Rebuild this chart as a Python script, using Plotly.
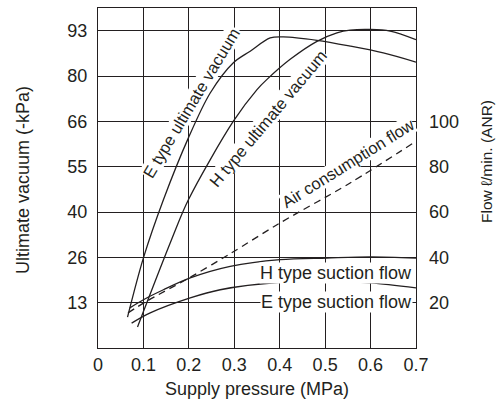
import plotly.graph_objects as go

# ---- data ----
pressure_ticks = [0, 0.1, 0.2, 0.3, 0.4, 0.5, 0.6, 0.7]
pressure_labels = ["0", "0.1", "0.2", "0.3", "0.4", "0.5", "0.6", "0.7"]
vacuum_labels = ["13", "26", "40", "55", "66", "80", "93"]
flow_ticks = [20, 40, 60, 80, 100]

# Ultimate vacuum curves (-kPa)
e_vac_p = [0.065, 0.10, 0.144, 0.199, 0.247, 0.298, 0.335, 0.379, 0.408, 0.482, 0.555, 0.628, 0.70]
e_vac_v = [9.1, 26.5, 43.6, 61.8, 75.0, 83.9, 87.3, 91.2, 91.5, 90.5, 88.8, 86.8, 84.1]
h_vac_p = [0.087, 0.162, 0.199, 0.298, 0.35, 0.372, 0.423, 0.482, 0.526, 0.555, 0.60, 0.643, 0.70]
h_vac_v = [6.2, 31.9, 43.6, 66.7, 76.0, 79.0, 84.9, 90.2, 92.7, 93.5, 93.7, 93.2, 90.7]

# Flow curves (l/min ANR)
h_flow_p = [0.070, 0.10, 0.144, 0.203, 0.291, 0.401, 0.504, 0.60, 0.70]
h_flow_q = [17.7, 21.3, 25.7, 30.9, 36.0, 39.0, 39.7, 40.2, 39.7]
e_flow_p = [0.074, 0.115, 0.203, 0.269, 0.401, 0.504, 0.60, 0.70]
e_flow_q = [11.0, 15.5, 22.1, 25.7, 29.0, 29.4, 28.7, 26.5]
air_p = [0.066, 0.107, 0.203, 0.291, 0.401, 0.555, 0.70]
air_q = [15.5, 20.6, 31.2, 41.6, 55.2, 72.8, 91.2]

# ---- figure ----
ink = "#231f20"
font_family = "Arial, Liberation Sans, sans-serif"
vac_top = 100.0          # kPa at top of plot (7.5 grid steps)
vac_step = vac_top / 7.5
vac_tickvals = [vac_step * (i + 1) for i in range(len(vacuum_labels))]

fig = go.Figure()


def add_line(x, y, axis, dash="solid"):
    fig.add_trace(go.Scatter(
        x=x, y=y, mode="lines", yaxis=axis, showlegend=False, hoverinfo="skip",
        line=dict(color=ink, width=1.3, shape="spline", smoothing=0.9, dash=dash),
    ))


add_line(e_vac_p, e_vac_v, "y")
add_line(h_vac_p, h_vac_v, "y")
add_line(h_flow_p, h_flow_q, "y2")
add_line(e_flow_p, e_flow_q, "y2")
add_line(air_p, air_q, "y2", dash="7px,5px")

fig.update_layout(
    width=498, height=400,
    margin=dict(l=98, r=82, t=8, b=52),
    paper_bgcolor="white", plot_bgcolor="white",
    font=dict(family=font_family, size=18, color=ink),
    xaxis=dict(
        range=[0, 0.7], tickvals=pressure_ticks, ticktext=pressure_labels,
        showgrid=True, gridcolor=ink, gridwidth=1.2,
        showline=True, linecolor=ink, linewidth=1.3, mirror=True,
        zeroline=False, ticks="", fixedrange=True,
    ),
    yaxis=dict(
        range=[0, vac_top], tickvals=vac_tickvals, ticktext=vacuum_labels,
        showgrid=True, gridcolor=ink, gridwidth=1.2,
        showline=True, linecolor=ink, linewidth=1.3, mirror=True,
        zeroline=False, ticks="", ticklabelstandoff=6, fixedrange=True,
    ),
    yaxis2=dict(
        overlaying="y", side="right", range=[0, 150], tickvals=flow_ticks,
        showgrid=False, showline=False, zeroline=False, ticks="",
        ticklabelstandoff=12, fixedrange=True,
    ),
)


def px_to_x(px):
    return (px - 98) * 0.7 / 318


def py_to_v(py):
    return (348 - py) * vac_top / 340


labels = [
    ("E type ultimate vacuum", 190.8, 102.5, -59, 16.5),
    ("H type ultimate vacuum", 267.5, 119.0, -50, 16.5),
    ("Air consumption flow", 348.3, 163.3, -32, 16.5),
    ("H type suction flow", 335.8, 272.7, 0, 18),
    ("E type suction flow", 336.7, 301.7, 0, 18),
]
for text, px, py, ang, size in labels:
    fig.add_annotation(
        x=px_to_x(px), y=py_to_v(py), xref="x", yref="y", text=text,
        showarrow=False, textangle=ang, bgcolor="white", borderpad=0,
        font=dict(size=size, color=ink, family=font_family),
        xanchor="center", yanchor="middle",
    )

# axis titles
fig.add_annotation(x=0.5, y=(348 - 389) / 340, xref="paper", yref="paper",
                   text="Supply pressure (MPa)", showarrow=False,
                   font=dict(size=18), xanchor="center", yanchor="middle")
fig.add_annotation(x=(23 - 98) / 318, y=(348 - 180) / 340, xref="paper", yref="paper",
                   text="Ultimate vacuum (-kPa)", showarrow=False, textangle=-90,
                   font=dict(size=18), xanchor="center", yanchor="middle")
fig.add_annotation(x=(487 - 98) / 318, y=(348 - 162) / 340, xref="paper", yref="paper",
                   text="Flow ℓ/min. (ANR)", showarrow=False, textangle=-90,
                   font=dict(size=15.5), xanchor="center", yanchor="middle")

fig.write_html("out.html")
